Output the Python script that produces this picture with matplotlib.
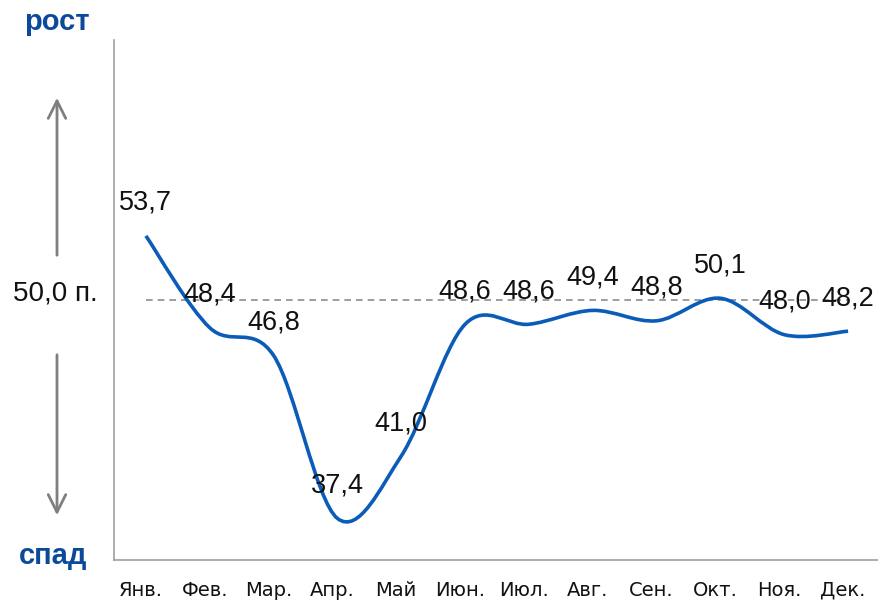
import matplotlib
matplotlib.use("Agg")
import matplotlib.pyplot as plt
import matplotlib.transforms as mtransforms
from matplotlib.path import Path
from matplotlib.patches import PathPatch, FancyArrowPatch
import numpy as np

# ── Data ──────────────────────────────────────────────────────────────────
MONTHS = ["Янв.", "Фев.", "Мар.", "Апр.", "Май", "Июн.",
          "Июл.", "Авг.", "Сен.", "Окт.", "Ноя.", "Дек."]
VALUES = [53.7, 48.4, 46.8, 37.4, 41.0, 48.6, 48.6, 49.4, 48.8, 50.1, 48.0, 48.2]
THRESHOLD = 50.0

BLUE = "#0a5cb8"
DARK_BLUE = "#0b4a9b"
GREY = "#8c8c8c"

plt.rcParams["font.family"] = ["Liberation Sans", "DejaVu Sans"]


def smooth_path(x, y):
    """Catmull-Rom style cubic Bezier path through the points (like Excel's smoothed line)."""
    pts = np.column_stack([x, y]).astype(float)
    n = len(pts)
    verts = [pts[0]]
    codes = [Path.MOVETO]
    for i in range(n - 1):
        p0 = pts[i - 1] if i > 0 else pts[i]
        p1 = pts[i]
        p2 = pts[i + 1]
        p3 = pts[i + 2] if i + 2 < n else pts[i + 1]
        c1 = p1 + (p2 - p0) / 6.0
        c2 = p2 - (p3 - p1) / 6.0
        verts += [c1, c2, p2]
        codes += [Path.CURVE4] * 3
    return Path(verts, codes)


fig = plt.figure(figsize=(8.79, 6.05), dpi=100, facecolor="white")
ax = fig.add_axes([114 / 879, 45 / 605, 766 / 879, 520 / 605])

xs = np.arange(len(MONTHS))

# threshold line
ax.plot([xs[0], xs[-1]], [THRESHOLD, THRESHOLD], color=GREY, lw=1.2,
        ls=(0, (4, 3)), zorder=1)

# smoothed series
ax.add_patch(PathPatch(smooth_path(xs, VALUES), fill=False, edgecolor=BLUE,
                       lw=2.6, capstyle="butt", zorder=3))

# value labels
for xi, v in zip(xs, VALUES):
    ax.annotate(f"{v:.1f}".replace(".", ","), xy=(xi, v), xytext=(0, 33),
                textcoords="offset pixels",
                ha="center", va="center", fontsize=19.5, color="#111111", zorder=4)

ax.set_xlim(-0.5, len(MONTHS) - 0.5)
ax.set_ylim(35, 65)
ax.set_xticks(xs)
ax.set_xticklabels(MONTHS, fontsize=14, color="#111111", family="DejaVu Sans")
ax.tick_params(axis="x", length=0, pad=15)
# labels sit a little left of the category centres in the original
shift = mtransforms.ScaledTranslation(-5 / 100, 0, fig.dpi_scale_trans)
for lbl in ax.get_xticklabels():
    lbl.set_transform(lbl.get_transform() + shift)
ax.set_yticks([])
for side in ("top", "right"):
    ax.spines[side].set_visible(False)
for side in ("left", "bottom"):
    ax.spines[side].set_color("#a0a0a0")
    ax.spines[side].set_linewidth(1.2)

# left-hand annotations
fig.text(57 / 879, 1 - 22 / 605, "рост", ha="center", va="center",
         fontsize=21, fontweight="bold", color=DARK_BLUE)
fig.text(53 / 879, 1 - 556 / 605, "спад", ha="center", va="center",
         fontsize=21, fontweight="bold", color=DARK_BLUE)
fig.text(55 / 879, 1 - 294 / 605, "50,0 п.", ha="center", va="center",
         fontsize=20, color="#111111")

arrow_kw = dict(arrowstyle="->,head_length=0.9,head_width=0.45",
                color="#7f7f7f", lw=2.0)
fig.add_artist(FancyArrowPatch(
    (57 / 879, 1 - 258 / 605), (57 / 879, 1 - 95 / 605),
    transform=fig.transFigure, mutation_scale=14, **arrow_kw))
fig.add_artist(FancyArrowPatch(
    (57 / 879, 1 - 352 / 605), (57 / 879, 1 - 518 / 605),
    transform=fig.transFigure, mutation_scale=14, **arrow_kw))

fig.savefig("out.png", dpi=100, facecolor="white")
